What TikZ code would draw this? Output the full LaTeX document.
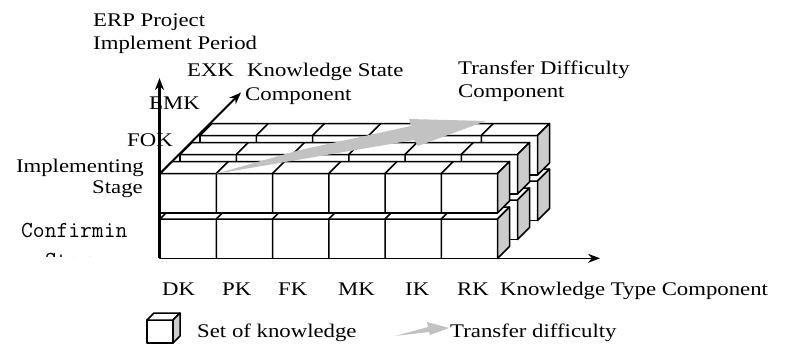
\documentclass[tikz,border=0pt]{standalone}
\usepackage{fontspec}
\setmainfont{Liberation Serif}[FakeStretch=1.18]
\usetikzlibrary{arrows.meta}

\begin{document}
\begin{tikzpicture}[x=1pt,y=-1pt,>={Stealth[length=12pt,width=9pt]},
  lbl/.style={inner sep=0,font=\fontsize{19.3}{23}\selectfont},
  mono/.style={inner sep=0,font=\ttfamily\fontsize{22.9}{30}\selectfont},
  edge/.style={line width=1.5,line join=round}]
\definecolor{SideGray}{gray}{0.8}
\definecolor{ArrowGray}{gray}{0.76}
\def\w{337.5}
\def\b{56.25}
\def\h{39.5}
\def\d{12}

\useasboundingbox (0,0) rectangle (787,345);

%\draw[very thin,color=lightgray] (0,0) grid[step=50] (787,345);

% back row
\begin{scope}[shift={(200,220.5)}]
\filldraw[edge,fill=white] (0,0) rectangle (\w,-\h);
\filldraw[edge,fill=white] (0,-\h) -- (\d,-\h-\d) -- (\w+\d,-\h-\d) -- (\w,-\h) -- cycle;
\filldraw[edge,fill=SideGray] (\w,0) -- (\w,-\h) -- (\w+\d,-\h-\d) -- (\w+\d,-\d) -- cycle;
\foreach \i in {1,...,5} \draw[edge] (\i*\b,0) -- (\i*\b,-\h) -- ++(\d,-\d);
\end{scope}

\begin{scope}[shift={(200,175)}]
\filldraw[edge,fill=white] (0,0) rectangle (\w,-\h);
\filldraw[edge,fill=white] (0,-\h) -- (\d,-\h-\d) -- (\w+\d,-\h-\d) -- (\w,-\h) -- cycle;
\filldraw[edge,fill=SideGray] (\w,0) -- (\w,-\h) -- (\w+\d,-\h-\d) -- (\w+\d,-\d) -- cycle;
\foreach \i in {1,...,5} \draw[edge] (\i*\b,0) -- (\i*\b,-\h) -- ++(\d,-\d);
\end{scope}

% middle row
\begin{scope}[shift={(180,239.5)}]
\filldraw[edge,fill=white] (0,0) rectangle (\w,-\h);
\filldraw[edge,fill=white] (0,-\h) -- (\d,-\h-\d) -- (\w+\d,-\h-\d) -- (\w,-\h) -- cycle;
\filldraw[edge,fill=SideGray] (\w,0) -- (\w,-\h) -- (\w+\d,-\h-\d) -- (\w+\d,-\d) -- cycle;
\foreach \i in {1,...,5} \draw[edge] (\i*\b,0) -- (\i*\b,-\h) -- ++(\d,-\d);
\end{scope}

\begin{scope}[shift={(180,194)}]
\filldraw[edge,fill=white] (0,0) rectangle (\w,-\h);
\filldraw[edge,fill=white] (0,-\h) -- (\d,-\h-\d) -- (\w+\d,-\h-\d) -- (\w,-\h) -- cycle;
\filldraw[edge,fill=SideGray] (\w,0) -- (\w,-\h) -- (\w+\d,-\h-\d) -- (\w+\d,-\d) -- cycle;
\foreach \i in {1,...,5} \draw[edge] (\i*\b,0) -- (\i*\b,-\h) -- ++(\d,-\d);
\end{scope}

% front row
\begin{scope}[shift={(160,258.5)}]
\filldraw[edge,fill=white] (0,0) rectangle (\w,-\h);
\filldraw[edge,fill=white] (0,-\h) -- (\d,-\h-\d) -- (\w+\d,-\h-\d) -- (\w,-\h) -- cycle;
\filldraw[edge,fill=SideGray] (\w,0) -- (\w,-\h) -- (\w+\d,-\h-\d) -- (\w+\d,-\d) -- cycle;
\foreach \i in {1,...,5} \draw[edge] (\i*\b,0) -- (\i*\b,-\h) -- ++(\d,-\d);
\end{scope}

\begin{scope}[shift={(160,213)}]
\filldraw[edge,fill=white] (0,0) rectangle (\w,-\h);
\filldraw[edge,fill=white] (0,-\h) -- (\d,-\h-\d) -- (\w+\d,-\h-\d) -- (\w,-\h) -- cycle;
\filldraw[edge,fill=SideGray] (\w,0) -- (\w,-\h) -- (\w+\d,-\h-\d) -- (\w+\d,-\d) -- cycle;
\foreach \i in {1,...,5} \draw[edge] (\i*\b,0) -- (\i*\b,-\h) -- ++(\d,-\d);
\end{scope}

% transfer difficulty arrow
\fill[ArrowGray] (215,174) -- (300,150) -- (411,126) -- (409,119) -- (486,121)
  -- (418,146) -- (414,140) -- cycle;

% axes
\coordinate (O) at (159.5,258.3);
\coordinate (Ztop) at (160,173.5);
\draw[line width=2.2,->] (O) -- (159.5,78);
\draw[line width=1.6,->] (O) -- (600,258.3);
\draw[line width=1.8,->] (Ztop) -- (241,92.5);

\node[lbl,anchor=base west] (erpA) at (93,26.7) {ERP Project};
\node[lbl,anchor=base west] (erpB) at (93,50) {Implement Period};
\node[lbl,anchor=base west] (exk) at (187,77) {EXK};
\node[lbl,anchor=base west] (ksA) at (247,77) {Knowledge State};
\node[lbl,anchor=base west] (ksB) at (245,100.5) {Component};
\node[lbl,anchor=base west] (tdA) at (458,74.5) {Transfer Difficulty};
\node[lbl,anchor=base west] (tdB) at (458,97) {Component};
\node[lbl,anchor=base west] (emk) at (149,110) {EMK};
\node[lbl,anchor=base west] (fok) at (127,146.7) {FOK};
\node[lbl,anchor=base east] (implA) at (144,172) {Implementing};
\node[lbl,anchor=base east] (implB) at (143,193.3) {Stage};

\begin{scope}
\clip (0,200) rectangle (150,256.8);
\node[mono,anchor=base west] (confA) at (21,237.3) {Confirmin};
\node[mono,anchor=base] (confB) at (74.5,267.5) {Stage};
\end{scope}

\node[lbl,anchor=base west] (dk) at (162,295) {DK};
\node[lbl,anchor=base west] (pk) at (222,295) {PK};
\node[lbl,anchor=base west] (fk) at (278,295) {FK};
\node[lbl,anchor=base west] (mk) at (338,295) {MK};
\node[lbl,anchor=base west] (ik) at (405,295) {IK};
\node[lbl,anchor=base west] (rk) at (457,295) {RK};
\node[lbl,anchor=base west] (ktc) at (500,295) {Knowledge Type Component};

% legend
\begin{scope}[shift={(147,343)}]
\filldraw[edge,fill=white] (0,0) rectangle (26,-23);
\filldraw[edge,fill=white] (0,-23) -- (7,-30) -- (33,-30) -- (26,-23) -- cycle;
\filldraw[edge,fill=SideGray] (26,0) -- (26,-23) -- (33,-30) -- (33,-7) -- cycle;
\end{scope}
\node[lbl,anchor=base west] (setk) at (197,337) {Set of knowledge};
\fill[ArrowGray] (395,336) -- (428,327) -- (427,322) -- (449,328) -- (430,335) -- (429,332) -- cycle;
\node[lbl,anchor=base west] (trd) at (450,337) {Transfer difficulty};

\end{tikzpicture}
\end{document}
